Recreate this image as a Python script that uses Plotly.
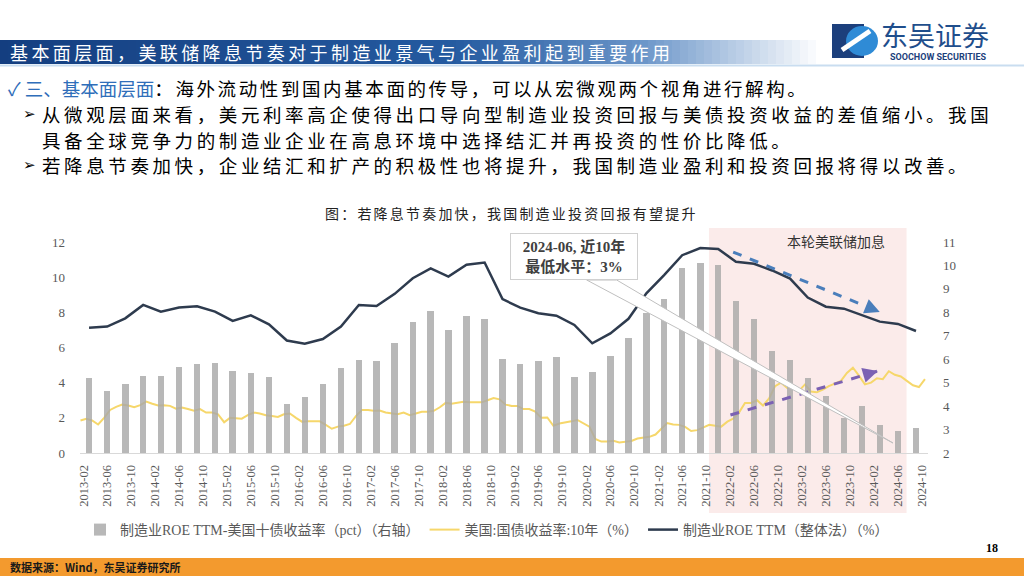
import plotly.graph_objects as go
import pandas as pd

# ---------------- data ----------------
quarters = [
    "2013-03", "2013-06", "2013-09", "2013-12",
    "2014-03", "2014-06", "2014-09", "2014-12",
    "2015-03", "2015-06", "2015-09", "2015-12",
    "2016-03", "2016-06", "2016-09", "2016-12",
    "2017-03", "2017-06", "2017-09", "2017-12",
    "2018-03", "2018-06", "2018-09", "2018-12",
    "2019-03", "2019-06", "2019-09", "2019-12",
    "2020-03", "2020-06", "2020-09", "2020-12",
    "2021-03", "2021-06", "2021-09", "2021-12",
    "2022-03", "2022-06", "2022-09", "2022-12",
    "2023-03", "2023-06", "2023-09", "2023-12",
    "2024-03", "2024-06", "2024-09",
]
# 制造业ROE TTM（整体法）（%）
roe_ttm = [
    7.13, 7.19, 7.66, 8.42, 8.04, 8.27, 8.34, 8.04,
    7.51, 7.83, 7.32, 6.40, 6.22, 6.48, 7.19, 8.42,
    8.36, 9.05, 9.94, 10.50, 10.03, 10.71, 10.83, 8.75,
    8.27, 7.95, 7.81, 7.28, 6.24, 6.80, 7.63, 9.08,
    10.12, 11.25, 11.66, 11.60, 10.88, 10.76, 10.38, 9.92,
    8.84, 8.32, 8.21, 7.85, 7.47, 7.34, 6.94,
]
# 制造业ROE TTM-美国十债收益率（pct）（右轴）
roe_minus_ust = [
    5.21, 4.66, 4.96, 5.30, 5.27, 5.68, 5.78, 5.85,
    5.51, 5.43, 5.24, 4.08, 4.39, 4.94, 5.61, 5.95,
    5.92, 6.71, 7.58, 8.07, 7.25, 7.83, 7.73, 6.00,
    5.78, 5.92, 6.08, 5.26, 5.47, 6.15, 6.92, 7.96,
    8.57, 9.91, 10.10, 10.02, 8.48, 7.72, 6.35, 5.97,
    5.21, 4.44, 3.51, 4.02, 3.19, 2.94, 3.05,
]
# 美国:国债收益率:10年（%），monthly 2013-01 .. 2024-10
ust10y = [
    1.85, 1.95, 1.85, 1.62, 2.00, 2.45, 2.62, 2.75, 2.70, 2.60, 2.72, 2.92,
    2.80, 2.70, 2.72, 2.68, 2.52, 2.58, 2.50, 2.40, 2.50, 2.30, 2.30, 2.20,
    1.75, 2.00, 1.98, 1.95, 2.15, 2.30, 2.25, 2.15, 2.10, 2.05, 2.20, 2.25,
    2.00, 1.78, 1.80, 1.80, 1.80, 1.60, 1.38, 1.50, 1.55, 1.65, 2.10, 2.45,
    2.45, 2.40, 2.42, 2.30, 2.25, 2.20, 2.30, 2.15, 2.25, 2.35, 2.35, 2.40,
    2.60, 2.85, 2.80, 2.85, 2.92, 2.88, 2.90, 2.88, 3.00, 3.12, 3.05, 2.75,
    2.68, 2.68, 2.50, 2.50, 2.35, 2.00, 2.02, 1.55, 1.68, 1.72, 1.80, 1.88,
    1.68, 1.50, 0.80, 0.65, 0.65, 0.70, 0.60, 0.65, 0.68, 0.82, 0.88, 0.92,
    1.05, 1.35, 1.70, 1.62, 1.60, 1.48, 1.25, 1.30, 1.45, 1.60, 1.55, 1.50,
    1.78, 1.95, 2.30, 2.85, 2.85, 3.00, 2.70, 3.10, 3.80, 4.00, 3.70, 3.85,
    3.55, 3.90, 3.50, 3.45, 3.60, 3.80, 3.95, 4.10, 4.55, 4.85, 4.40, 3.90,
    4.00, 4.25, 4.20, 4.65, 4.45, 4.35, 4.10, 3.85, 3.75, 4.20,
]
ust_months = [d.strftime("%Y-%m") for d in pd.date_range("2013-01-01", periods=len(ust10y), freq="MS")]

tick_labels = [
    "2013-02", "2013-06", "2013-10", "2014-02", "2014-06", "2014-10",
    "2015-02", "2015-06", "2015-10", "2016-02", "2016-06", "2016-10",
    "2017-02", "2017-06", "2017-10", "2018-02", "2018-06", "2018-10",
    "2019-02", "2019-06", "2019-10", "2020-02", "2020-06", "2020-10",
    "2021-02", "2021-06", "2021-10", "2022-02", "2022-06", "2022-10",
    "2023-02", "2023-06", "2023-10", "2024-02", "2024-06", "2024-10",
]
hike_period = ("2021-10-15", "2024-07-15")

names = [
    "制造业ROE TTM-美国十债收益率（pct）（右轴）",
    "美国:国债收益率:10年（%）",
    "制造业ROE TTM（整体法）（%）",
]

# ---------------- helpers (pixel -> paper) ----------------
L, R, T, B = 80, 928, 242, 453


def px(x):
    return (x - L) / (R - L)


def py(y):
    return (B - y) / (B - T)


CJK = "Noto Sans CJK SC"
SERIF = "Liberation Serif, Noto Sans CJK SC"

fig = go.Figure()

fig.add_trace(go.Bar(
    x=quarters, y=roe_minus_ust, name=names[0], yaxis="y2",
    marker=dict(color="rgba(168,168,168,0.82)", line=dict(width=0)),
    width=33 * 86400000,
))
fig.add_trace(go.Scatter(
    x=ust_months, y=ust10y, name=names[1], mode="lines",
    xperiod="M1", xperiodalignment="middle",
    line=dict(color="#F6D76B", width=2),
))
fig.add_trace(go.Scatter(
    x=quarters, y=roe_ttm, name=names[2], mode="lines",
    line=dict(color="#2E3B4E", width=2.5),
))

shapes = []
# shaded hiking period
shapes.append(dict(type="rect", xref="x", yref="paper",
                   x0=hike_period[0], x1=hike_period[1], y0=py(513), y1=py(228),
                   fillcolor="#FBEBEA", line=dict(width=0), layer="below"))

# header gradient band
stops = [(0, (20, 62, 128)), (450, (36, 90, 160)), (640, (105, 148, 200)), (820, (255, 255, 255))]


def colat(x):
    for (x0, c0), (x1, c1) in zip(stops[:-1], stops[1:]):
        if x0 <= x <= x1:
            t = (x - x0) / (x1 - x0)
            return "rgb(%d,%d,%d)" % tuple(round(a + (b - a) * t) for a, b in zip(c0, c1))
    return "rgb(255,255,255)"


step = 8
for xs in range(0, 824, step):
    shapes.append(dict(type="rect", xref="paper", yref="paper",
                       x0=px(xs), x1=px(xs + step + 0.5), y0=py(64), y1=py(40),
                       fillcolor=colat(xs + step / 2), line=dict(width=0), layer="below"))
shapes.append(dict(type="line", xref="paper", yref="paper", x0=px(0), x1=px(1024),
                   y0=py(65.5), y1=py(65.5), line=dict(color="#C9DDF0", width=2)))

# logo icon
shapes.append(dict(type="rect", xref="paper", yref="paper", x0=px(832), x1=px(864),
                   y0=py(58), y1=py(24), fillcolor="#1C3F7C", line=dict(width=0)))
shapes.append(dict(type="circle", xref="paper", yref="paper", x0=px(846), x1=px(878),
                   y0=py(56), y1=py(26), fillcolor="#2F8BD6", line=dict(width=0)))
shapes.append(dict(type="path", xref="paper", yref="paper",
                   path="M %f,%f L %f,%f" % (px(842), py(50), px(870), py(31)),
                   line=dict(color="white", width=5)))

# footer band
shapes.append(dict(type="rect", xref="paper", yref="paper", x0=px(0), x1=px(1024),
                   y0=py(576), y1=py(558), fillcolor="#F39A2E", line=dict(width=0)))

# dashed trend arrows
shapes.append(dict(type="line", xref="x", yref="y", x0="2022-02-15", y0=11.43,
                   x1="2024-03-01", y1=8.02, line=dict(color="#4A7EBB", width=3, dash="dash")))
shapes.append(dict(type="line", xref="x", yref="y", x0="2022-02-01", y0=2.16,
                   x1="2024-02-20", y1=4.66, line=dict(color="#7B61B3", width=3, dash="dash")))

# callout wedge
shapes.append(dict(type="path", xref="paper", yref="paper",
                   path="M %f,%f L %f,%f L %f,%f Z" % (px(586.7), py(280), px(893), py(443), px(616.7), py(280)),
                   fillcolor="white", line=dict(color="#BFBFBF", width=1), layer="above"))

annotations = []


def text(x, y, s, size, color="#000", family=CJK, xanchor="left", **kw):
    annotations.append(dict(xref="paper", yref="paper", x=px(x), y=py(y), text=s,
                            showarrow=False, xanchor=xanchor, yanchor="middle",
                            font=dict(size=size, color=color, family=family), **kw))


def spaced(s, ls):
    return "<span style='letter-spacing:%.1fpx'>%s</span>" % (ls, s)


text(8, 52, spaced("基本面层面，美联储降息节奏对于制造业景气与企业盈利起到重要作用", 3.4), 18, "white")
text(879, 34, "东吴证券", 27, "#1F4E8C")
text(938, 57, "<b>SOOCHOW SECURITIES</b>", 9, "#1C3F7C", "Roboto", xanchor="center")

text(6, 88, "<span style='color:#2F6EBA'>✓ 三、基本面层面</span>" +
     spaced("：海外流动性到国内基本面的传导，可以从宏微观两个视角进行解构。", 2.6), 18.5)
text(21, 114, "➢", 15, "#000", "DejaVu Sans")
text(40, 114, spaced("从微观层面来看，美元利率高企使得出口导向型制造业投资回报与美债投资收益的差值缩小。我国", 3.6), 18.5)
text(40, 140, spaced("具备全球竞争力的制造业企业在高息环境中选择结汇并再投资的性价比降低。", 3.6), 18.5)
text(21, 165, "➢", 15, "#000", "DejaVu Sans")
text(40, 165, spaced("若降息节奏加快，企业结汇和扩产的积极性也将提升，我国制造业盈利和投资回报将得以改善。", 3.6), 18.5)

text(511, 213, spaced("图：若降息节奏加快，我国制造业投资回报有望提升", 2.2), 14, "#222", xanchor="center")
text(836, 241, "本轮美联储加息", 14, "#333", xanchor="center")

annotations.append(dict(xref="paper", yref="paper", x=px(574), y=py(256.5),
                        text="<b>2024-06, 近10年</b><br><b>最低水平：3%</b>", showarrow=False,
                        xanchor="center", yanchor="middle", align="center",
                        width=122, height=41, bgcolor="white", bordercolor="#D0D0D0",
                        borderwidth=1, borderpad=2,
                        font=dict(size=15, color="#404040", family=SERIF)))

# arrowheads for dashed arrows
annotations.append(dict(xref="x", yref="y", x="2024-03-01", y=8.02, ax=-11, ay=-4.5,
                        text="", showarrow=True, arrowhead=2, arrowsize=1, arrowwidth=3,
                        arrowcolor="#4A7EBB"))
annotations.append(dict(xref="x", yref="y", x="2024-02-20", y=4.66, ax=-11.5, ay=3.4,
                        text="", showarrow=True, arrowhead=2, arrowsize=1, arrowwidth=3,
                        arrowcolor="#7B61B3"))

text(8, 567, "<b>数据来源：Wind，东吴证券研究所</b>", 11, "#1a1a1a")
text(1000, 548, "<b>18</b>", 12, "#000", SERIF, xanchor="right")

fig.update_layout(
    width=1024, height=576, autosize=False,
    margin=dict(l=L, r=1024 - R, t=T, b=576 - B, pad=0),
    paper_bgcolor="white", plot_bgcolor="rgba(0,0,0,0)",
    template="none",
    bargap=0,
    shapes=shapes, annotations=annotations,
    showlegend=True,
    legend=dict(orientation="h", x=px(80), xanchor="left", y=py(530), yanchor="middle",
                font=dict(size=14, color="#595959", family=SERIF),
                bgcolor="rgba(0,0,0,0)", itemwidth=30, tracegroupgap=0),
    xaxis=dict(type="date", range=["2013-01-14", "2024-11-01"],
               tickvals=tick_labels, ticktext=tick_labels, tickangle=-90,
               tickfont=dict(size=12.5, color="#595959", family=SERIF),
               showgrid=False, zeroline=False, showline=True, linecolor="#D9D9D9",
               linewidth=1, ticks="", automargin=False, ticklabelstandoff=6),
    yaxis=dict(range=[0, 12], tickvals=[0, 2, 4, 6, 8, 10, 12], showgrid=False,
               zeroline=False, showline=False, ticks="",
               tickfont=dict(size=13, color="#595959", family=SERIF),
               automargin=False, ticklabelstandoff=14),
    yaxis2=dict(range=[2, 11], tickvals=list(range(2, 12)), overlaying="y", side="right",
                showgrid=False, zeroline=False, showline=False, ticks="",
                tickfont=dict(size=13, color="#595959", family=SERIF),
                automargin=False, ticklabelstandoff=14),
)

fig.write_html("out.html")
